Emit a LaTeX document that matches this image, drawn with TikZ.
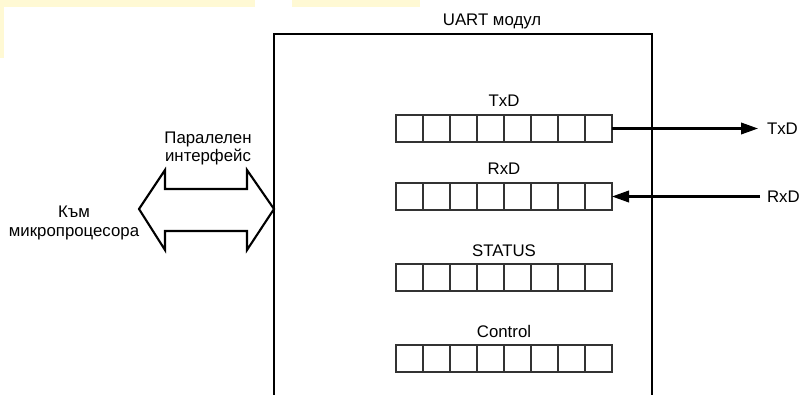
\documentclass[tikz,border=0pt]{standalone}
\usepackage{fontspec}
\setmainfont{Liberation Sans}
\usetikzlibrary{arrows.meta}
\definecolor{regline}{HTML}{333333}
\definecolor{wmark}{HTML}{FFF9D4}
\tikzset{
  lbl/.style={font=\fontsize{16.8}{18.5}\selectfont, inner sep=0pt, outer sep=0pt, text=black},
  regbox/.style={draw=regline, line width=1.5pt, minimum width=216pt, minimum height=27pt, inner sep=0pt, outer sep=0pt},
  sig/.style={line width=2.2pt, -{Triangle[length=17pt,width=11.5pt]}},
  frame/.style={line width=2.1pt},
}
\begin{document}
\begin{tikzpicture}[x=1pt,y=-1pt]
\path[use as bounding box] (0,0) rectangle (799,395);
\clip (0,0) rectangle (799,395);
% faint watermark remnants
\fill[wmark] (0,0) rectangle (255,7);
\fill[wmark] (292,0) rectangle (420,7);
\fill[wmark] (0,0) rectangle (4,58);
% main module frame
\coordinate (bl) at (274,400);
\coordinate (tl) at (274,34);
\coordinate (tr) at (652,34);
\coordinate (br) at (652,400);
\draw[frame] (bl) -- (tl) -- (tr) -- (br);
\node[lbl, anchor=base] (title) at (492,26) {UART модул};
% registers
\foreach \n/\y/\t in {tx/115/TxD, rx/183/RxD, st/264/STATUS, ct/345/Control}{
  \node[regbox, anchor=north west] (\n) at (396,\y) {};
  \foreach \i in {1,...,7}{
    \draw[regline, line width=1.5pt] ([xshift=\i*27pt]\n.north west) -- ([xshift=\i*27pt]\n.south west);
  }
  \node[lbl, anchor=base] (\n lbl) at ([yshift=8pt]\n.north) {\t};
}
% serial lines
\coordinate (txend) at (758,128.5);
\coordinate (rxstart) at (760,197);
\draw[sig] (tx.east) -- (tx.east -| txend);
\draw[sig] (rx.east -| rxstart) -- (rx.east);
\node[lbl, anchor=west] (txout) at (767,129) {TxD};
\node[lbl, anchor=west] (rxin) at (767,197) {RxD};
% parallel interface double arrow
\draw[frame, line join=miter] (139,209) -- (165,170) -- (165,189) -- (247,189) -- (247,170) -- (274,209)
  -- (247,250) -- (247,231) -- (165,231) -- (165,250) -- cycle;
\node[lbl, align=center, anchor=base] (par) at (208,162) {Паралелен\\интерфейс};
\node[lbl, align=center, anchor=base] (cpu) at (74,236) {Към\\микропроцесора};
\end{tikzpicture}
\end{document}
